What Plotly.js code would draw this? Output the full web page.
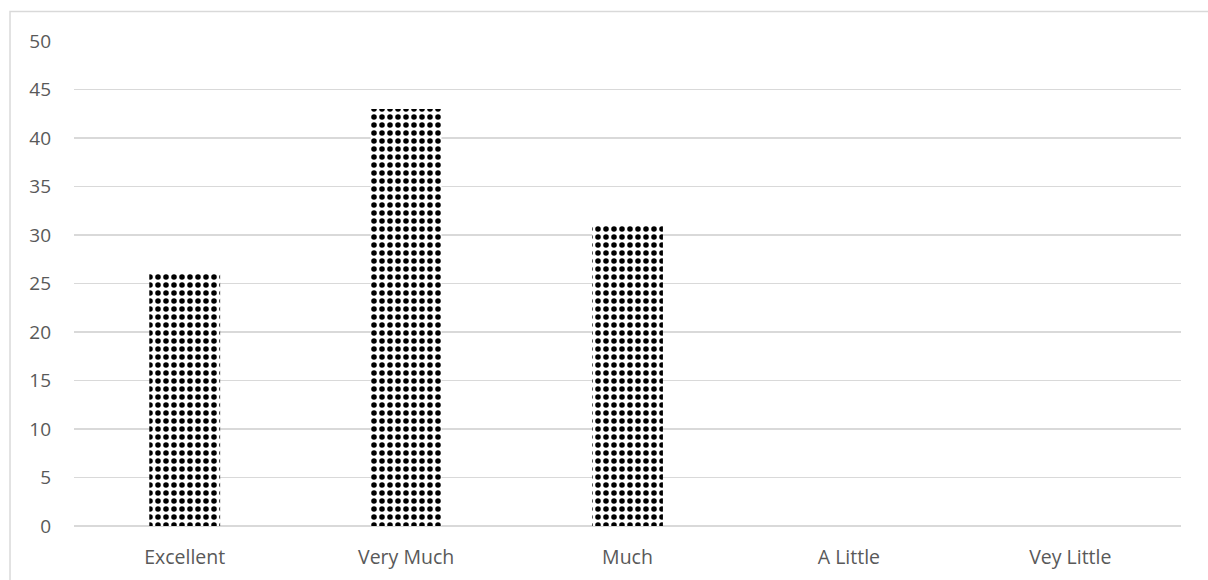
<!DOCTYPE html>
<html><head><meta charset="utf-8">
<script src="https://cdn.plot.ly/plotly-3.0.1.min.js"></script>
<style>html,body{margin:0;padding:0;background:#fff}#chart{width:1208px;height:580px}</style>
</head><body><div id="chart"></div>
<script>
var categories = ["Excellent", "Very Much", "Much", "A Little", "Vey Little"];
var values = [26, 43, 31, 0, 0];
var yTicks = [0, 5, 10, 15, 20, 25, 30, 35, 40, 45, 50];

var trace = {
  type: "bar",
  x: categories,
  y: values,
  marker: {
    color: "#ffffff",
    line: {width: 0},
    pattern: {shape: ".", fgcolor: "#000000", bgcolor: "#ffffff", fgopacity: 1, size: 8, solidity: 0.38, fillmode: "replace"}
  },
  hoverinfo: "x+y"
};

var layout = {
  width: 1208, height: 580,
  margin: {l: 74, r: 27, t: 41, b: 54},
  paper_bgcolor: "#ffffff", plot_bgcolor: "#ffffff",
  bargap: 0.68,
  showlegend: false,
  font: {family: "Open Sans, Noto Sans, sans-serif", size: 19, color: "#595959"},
  xaxis: {
    showgrid: false, zeroline: false, showline: false, ticks: "",
    tickfont: {size: 19.5, color: "#595959"}, ticklabelstandoff: 17
  },
  yaxis: {
    range: [0, 50], tickvals: yTicks, ticktext: yTicks.map(String),
    showgrid: true, gridcolor: "#d9d9d9", gridwidth: 1.5,
    zeroline: true, zerolinecolor: "#d9d9d9", zerolinewidth: 1.5,
    showline: false, ticks: "", ticklabelstandoff: 22,
    tickfont: {size: 19, color: "#595959"}
  },
  shapes: [{
    type: "rect", xref: "paper", yref: "paper",
    x0: -0.0578, x1: 1.1, y0: -0.3, y1: 1.0608,
    line: {color: "#d9d9d9", width: 1.5}, fillcolor: "rgba(0,0,0,0)", layer: "below"
  }]
};

Plotly.newPlot("chart", [trace], layout, {displayModeBar: false, staticPlot: true});
</script></body></html>
